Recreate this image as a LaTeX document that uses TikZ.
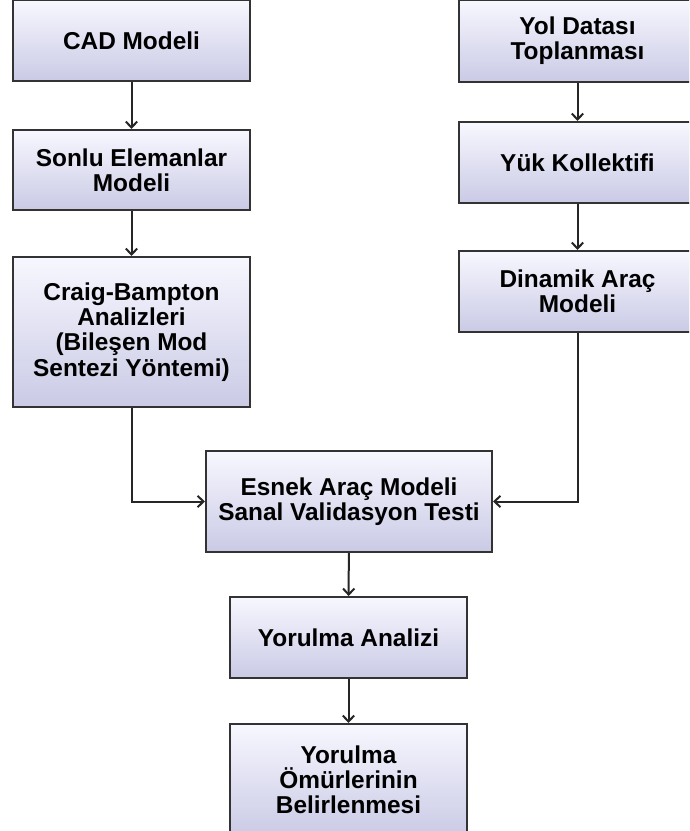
\documentclass[tikz,border=0pt]{standalone}
\usepackage{fontspec}
\setmainfont{Liberation Sans}
\usetikzlibrary{arrows.meta,shadows}
\begin{document}
\begin{tikzpicture}[x=0.75pt,y=-0.75pt,
  procbox/.style={draw=black!80, line width=1.5pt, top color=white!97!blue,
    bottom color=blue!12!white!90!black, align=center, inner sep=0pt,
    font=\fontsize{18.3}{18.9}\selectfont\bfseries,
    drop shadow={shadow xshift=0.9pt, shadow yshift=-0.9pt, opacity=0.3}},
  flow/.style={draw=black!85, line width=1.5pt,
    -{Straight Barb[length=4.5pt,width=8.5pt,line width=1.5pt]}}]
\clip (0,0) rectangle (689,831);
% left column
\node[procbox, minimum width=237*0.75pt, minimum height=81*0.75pt] (cad) at (131.5,40.5) {CAD Modeli};
\node[procbox, minimum width=237*0.75pt, minimum height=80*0.75pt] (fem) at (131.5,170) {Sonlu Elemanlar\\Modeli};
\node[procbox, minimum width=237*0.75pt, minimum height=150*0.75pt] (cb) at (131.5,332) {Craig-Bampton\\Analizleri\\(Bileşen Mod\\Sentezi Yöntemi)};
% right column
\node[procbox, minimum width=237*0.75pt, minimum height=82*0.75pt] (yol) at (577.5,41) {Yol Datası\\Toplanması};
\node[procbox, minimum width=237*0.75pt, minimum height=81*0.75pt] (yuk) at (577.5,162.5) {Yük Kollektifi};
\node[procbox, minimum width=237*0.75pt, minimum height=81*0.75pt] (din) at (577.5,291.5) {Dinamik Araç\\Modeli};
% merged chain
\node[procbox, minimum width=286*0.75pt, minimum height=101*0.75pt] (esnek) at (349,501.5) {Esnek Araç Modeli\\Sanal Validasyon Testi};
\node[procbox, minimum width=237*0.75pt, minimum height=81*0.75pt] (yor) at (348.5,637.5) {Yorulma Analizi};
\node[procbox, minimum width=237*0.75pt, minimum height=112*0.75pt] (omur) at (348.5,780) {Yorulma\\Ömürlerinin\\Belirlenmesi};
% connectors
\draw[flow] (cad) -- (fem);
\draw[flow] (fem) -- (cb);
\draw[flow] (yol) -- (yuk);
\draw[flow] (yuk) -- (din);
\draw[flow] (cb.south) |- (esnek.west);
\draw[flow] (din.south) |- (esnek.east);
\draw[flow] (esnek) -- (yor);
\draw[flow] (yor) -- (omur);
\end{tikzpicture}
\end{document}
